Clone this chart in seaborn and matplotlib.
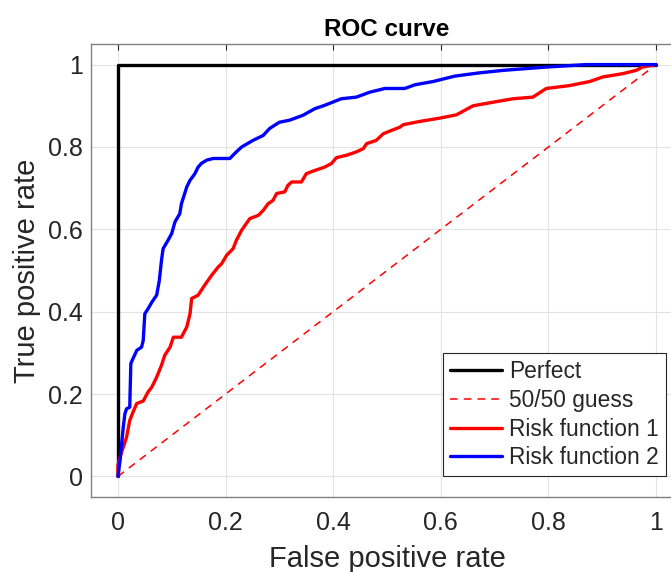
import numpy as np
import pandas as pd
import matplotlib
matplotlib.use("Agg")
import matplotlib.pyplot as plt
import seaborn as sns

# ---- data ----
perfect_fpr = [0.0, 0.0, 1.0]
perfect_tpr = [0.0, 1.0, 1.0]

guess_fpr = [0.0, 1.0]
guess_tpr = [0.0, 1.0]

risk1_fpr = [0.0, 0.0, 0.004, 0.010, 0.016, 0.022, 0.028, 0.035, 0.047, 0.056, 0.063, 0.072,
             0.081, 0.087, 0.097, 0.103, 0.118, 0.128, 0.134, 0.137, 0.149, 0.162, 0.174,
             0.186, 0.193, 0.202, 0.214, 0.220, 0.230, 0.245, 0.261, 0.270, 0.279, 0.288,
             0.295, 0.310, 0.316, 0.323, 0.341, 0.350, 0.366, 0.384, 0.397, 0.406, 0.425,
             0.443, 0.456, 0.462, 0.480, 0.493, 0.508, 0.524, 0.530, 0.561, 0.598, 0.629,
             0.660, 0.703, 0.734, 0.771, 0.796, 0.839, 0.877, 0.901, 0.938, 0.963, 0.975, 1.0]
risk1_tpr = [0.0, 0.027, 0.047, 0.071, 0.095, 0.136, 0.156, 0.177, 0.183, 0.205, 0.217, 0.241,
             0.270, 0.294, 0.314, 0.338, 0.338, 0.363, 0.395, 0.432, 0.440, 0.466, 0.488,
             0.508, 0.517, 0.537, 0.553, 0.573, 0.598, 0.626, 0.634, 0.646, 0.662, 0.670,
             0.687, 0.691, 0.707, 0.715, 0.715, 0.735, 0.743, 0.751, 0.760, 0.774, 0.780,
             0.788, 0.796, 0.808, 0.816, 0.832, 0.840, 0.848, 0.854, 0.862, 0.870, 0.878,
             0.900, 0.910, 0.917, 0.921, 0.942, 0.949, 0.959, 0.970, 0.978, 0.986, 0.994, 1.0]

risk2_fpr = [0.0, 0.004, 0.007, 0.010, 0.013, 0.016, 0.022, 0.024, 0.028, 0.035, 0.044, 0.047,
             0.050, 0.056, 0.063, 0.072, 0.077, 0.081, 0.084, 0.093, 0.100, 0.106, 0.115,
             0.118, 0.128, 0.134, 0.143, 0.149, 0.155, 0.165, 0.177, 0.208, 0.220, 0.230,
             0.251, 0.270, 0.282, 0.300, 0.319, 0.344, 0.366, 0.384, 0.415, 0.443, 0.468,
             0.496, 0.533, 0.552, 0.586, 0.626, 0.672, 0.716, 0.796, 0.870, 1.0]
risk2_tpr = [0.0, 0.039, 0.080, 0.120, 0.152, 0.164, 0.168, 0.274, 0.286, 0.306, 0.314, 0.330,
             0.395, 0.407, 0.423, 0.440, 0.476, 0.525, 0.553, 0.573, 0.590, 0.618, 0.638,
             0.662, 0.703, 0.719, 0.735, 0.751, 0.760, 0.768, 0.772, 0.772, 0.788, 0.800,
             0.816, 0.828, 0.845, 0.860, 0.865, 0.877, 0.893, 0.901, 0.917, 0.921, 0.933,
             0.942, 0.942, 0.951, 0.959, 0.972, 0.980, 0.986, 0.994, 1.000, 1.0]

labels = ["Perfect", "50/50 guess", "Risk function 1", "Risk function 2"]
x_ticks = [0, 0.2, 0.4, 0.6, 0.8, 1]
y_ticks = [0, 0.2, 0.4, 0.6, 0.8, 1]
tick_labels = ["0", "0.2", "0.4", "0.6", "0.8", "1"]

# ---- style ----
sns.set_style("white")
plt.rcParams["font.family"] = ["Liberation Sans", "DejaVu Sans"]
axcol = "#262626"

fig = plt.figure(figsize=(6.71, 5.72), dpi=100)
ax = fig.add_axes([91 / 671, 75 / 572, 592 / 671, 453 / 572])

def frame(x, y, name):
    return pd.DataFrame({"fpr": x, "tpr": y, "curve": name})

sns.lineplot(data=frame(perfect_fpr, perfect_tpr, labels[0]), x="fpr", y="tpr",
             sort=False, estimator=None, color="black", lw=2.4, ax=ax, label=labels[0])
sns.lineplot(data=frame(guess_fpr, guess_tpr, labels[1]), x="fpr", y="tpr",
             sort=False, estimator=None, color="red", lw=1.1, ax=ax, label=labels[1],
             linestyle=(0, (5, 4)))
sns.lineplot(data=frame(risk1_fpr, risk1_tpr, labels[2]), x="fpr", y="tpr",
             sort=False, estimator=None, color="red", lw=2.4, ax=ax, label=labels[2])
sns.lineplot(data=frame(risk2_fpr, risk2_tpr, labels[3]), x="fpr", y="tpr",
             sort=False, estimator=None, color="blue", lw=2.4, ax=ax, label=labels[3])

ax.set_xlim(-0.05, 1.05)
ax.set_ylim(-0.05, 1.05)
ax.set_xticks(x_ticks)
ax.set_xticklabels(tick_labels)
ax.set_yticks(y_ticks)
ax.set_yticklabels(tick_labels)
ax.grid(True, color="#e3e3e3", lw=0.8)
ax.set_axisbelow(True)
ax.tick_params(direction="in", length=4, width=0.8, color=axcol, labelcolor=axcol,
               labelsize=18, top=True, right=True)
ax.tick_params(axis="x", pad=10)
ax.tick_params(axis="y", pad=6)
for s in ax.spines.values():
    s.set_color("#808080")
    s.set_linewidth(1.0)

ax.set_xlabel("False positive rate", fontsize=21, color=axcol, labelpad=7)
ax.set_ylabel("True positive rate", fontsize=21, color=axcol, va="center")
ax.yaxis.set_label_coords(-0.108, 0.5)
ax.set_title("ROC curve", fontsize=17.5, fontweight="bold", color="black", pad=6)

leg = ax.legend(loc="lower right", bbox_to_anchor=(0.971, 0.046), borderaxespad=0,
                fontsize=16.4, frameon=True, fancybox=False, framealpha=1,
                edgecolor="#262626", handlelength=2.3, handletextpad=0.3,
                labelspacing=0.25, borderpad=0.3)
leg.get_frame().set_linewidth(0.8)

fig.savefig("out.png", dpi=100)
